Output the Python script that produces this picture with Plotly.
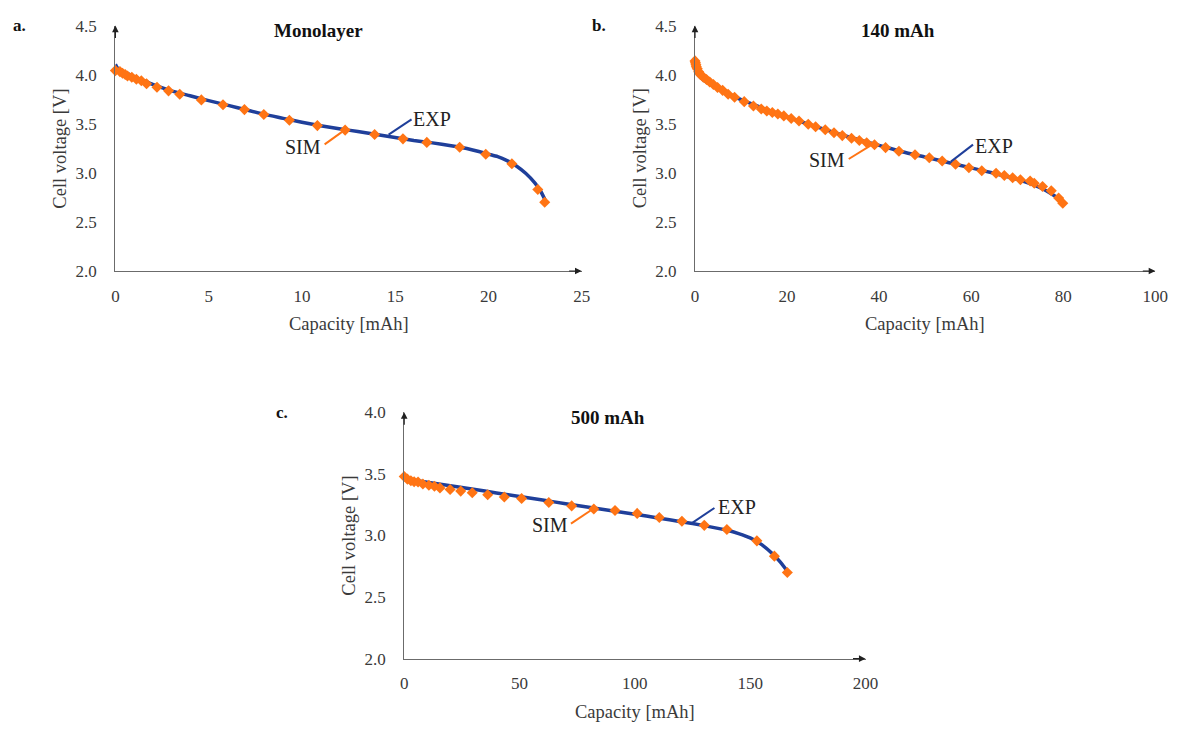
import plotly.graph_objects as go

# ---------------- data ----------------
# Panel a: Monolayer
a_exp_x = [0, 0.1, 0.3, 0.6, 1.0, 1.5, 2, 3, 4, 5, 6, 7, 8, 9, 10, 11, 12, 13, 14, 15, 16, 17, 18, 19, 20, 20.5, 21, 21.5, 22, 22.5, 22.8, 23.05]
a_exp_y = [4.105, 4.07, 4.045, 4.015, 3.98, 3.94, 3.90, 3.835, 3.785, 3.735, 3.69, 3.642, 3.595, 3.555, 3.515, 3.48, 3.45, 3.42, 3.39, 3.36, 3.33, 3.305, 3.275, 3.24, 3.19, 3.165, 3.125, 3.07, 2.995, 2.895, 2.815, 2.72]
a_sim_x = [0, 0.245, 0.386, 0.527, 0.65, 0.88, 1.125, 1.39, 1.67, 2.23, 2.85, 3.45, 4.61, 5.77, 6.92, 7.96, 9.33, 10.83, 12.32, 13.9, 15.42, 16.7, 18.46, 19.86, 21.26, 22.65, 23.02]
a_sim_y = [4.041, 4.031, 4.014, 4.001, 3.987, 3.974, 3.954, 3.938, 3.908, 3.872, 3.835, 3.80, 3.743, 3.693, 3.644, 3.594, 3.535, 3.481, 3.435, 3.39, 3.346, 3.31, 3.26, 3.19, 3.092, 2.83, 2.70]

# Panel b: 140 mAh
b_exp_x = [0, 0.3, 1, 2, 4, 6, 8, 10, 15, 20, 25, 30, 35, 40, 45, 50, 55, 60, 65, 70, 75, 78, 80, 80.4]
b_exp_y = [4.06, 4.02, 3.98, 3.94, 3.885, 3.835, 3.79, 3.745, 3.655, 3.57, 3.49, 3.415, 3.345, 3.28, 3.215, 3.16, 3.105, 3.05, 2.995, 2.935, 2.85, 2.77, 2.705, 2.685]
b_sim_x = [0, 0.1, 0.2, 0.3, 0.5, 0.8, 1.2, 1.8, 2.5, 3.2, 4.0, 4.9, 6.0, 7.2, 8.6, 10.7, 12.7, 14.4, 15.6, 16.8, 18.0, 19.3, 20.9, 22.6, 24.6, 26.2, 28.3, 30.2, 32.0, 34.0, 35.7, 37.3, 39.0, 41.4, 44.3, 47.8, 50.9, 53.7, 56.6, 59.5, 62.3, 65.4, 67.2, 69.0, 70.7, 72.8, 73.7, 75.5, 77.4, 79.0, 79.9]
b_sim_y = [4.14, 4.12, 4.10, 4.08, 4.06, 4.03, 4.0, 3.975, 3.95, 3.925, 3.90, 3.87, 3.84, 3.80, 3.77, 3.725, 3.68, 3.65, 3.63, 3.615, 3.60, 3.58, 3.553, 3.527, 3.494, 3.47, 3.438, 3.408, 3.379, 3.352, 3.329, 3.306, 3.286, 3.257, 3.22, 3.184, 3.154, 3.121, 3.088, 3.052, 3.022, 2.995, 2.972, 2.95, 2.93, 2.916, 2.893, 2.86, 2.817, 2.744, 2.69]

# Panel c: 500 mAh
c_exp_x = [0, 10, 20, 30, 40, 50, 60, 70, 80, 90, 100, 110, 120, 130, 140, 145, 150, 155, 160, 163, 166.3]
c_exp_y = [3.46, 3.432, 3.404, 3.375, 3.345, 3.316, 3.287, 3.258, 3.229, 3.20, 3.172, 3.142, 3.112, 3.08, 3.042, 3.015, 2.98, 2.925, 2.845, 2.785, 2.705]
c_sim_x = [0, 1.4, 2.9, 4.3, 6.0, 8.1, 10.7, 13.1, 15.5, 19.9, 24.5, 29.5, 36.2, 43.4, 50.9, 62.7, 72.6, 82.2, 91.4, 101.0, 110.6, 120.4, 130.1, 139.9, 152.9, 160.5, 166.1]
c_sim_y = [3.478, 3.457, 3.444, 3.436, 3.434, 3.418, 3.407, 3.40, 3.386, 3.373, 3.36, 3.346, 3.33, 3.312, 3.30, 3.267, 3.24, 3.215, 3.203, 3.179, 3.145, 3.116, 3.082, 3.048, 2.956, 2.832, 2.70]

titles = ["Monolayer", "140 mAh", "500 mAh"]
panel_labels = ["a.", "b.", "c."]
x_ranges = [[0, 25], [0, 100], [0, 200]]
y_ranges = [[2.0, 4.5], [2.0, 4.5], [2.0, 4.0]]
x_dticks = [5, 20, 50]
title_x = [10.9, 44.1, 88.5]

# label positions (data units): text centre, leader start, leader end
exp_text = [(16.97, 3.548), (65.0, 3.27), (144.3, 3.233)]
exp_lead = [((15.88, 3.545), (14.65, 3.389)), ((60.4, 3.287), (55.6, 3.114)), ((134.5, 3.223), (124.4, 3.096))]
sim_text = [(10.05, 3.26), (28.7, 3.13), (63.2, 3.088)]
sim_lead = [((11.22, 3.29), (12.36, 3.445)), ((33.4, 3.141), (38.2, 3.28)), ((72.3, 3.096), (81.8, 3.215))]

# ---------------- styling ----------------
W, H = 1190, 731
BLUE = "#1f3f9a"
ORANGE = "#ff7414"
AXIS = "#6b6b6b"
TXT = "#3a3a3a"
FONT = "Liberation Serif"

# pixel boxes (left, right, top, bottom)
boxes = [(113, 586, 17, 269), (701, 1168, 17, 269), (406, 874, 414, 667)]

exp_x = [a_exp_x, b_exp_x, c_exp_x]
exp_y = [a_exp_y, b_exp_y, c_exp_y]
sim_x = [a_sim_x, b_sim_x, c_sim_x]
sim_y = [a_sim_y, b_sim_y, c_sim_y]

fig = go.Figure()
annotations = []
shapes = []
layout = {}

for i in range(3):
    sfx = "" if i == 0 else str(i + 1)
    xa, ya = "x" + sfx, "y" + sfx
    l, r, t, b = boxes[i]
    layout["xaxis" + sfx] = dict(
        domain=[l / W, r / W], range=x_ranges[i], anchor=ya, dtick=x_dticks[i], tick0=0,
        showgrid=False, zeroline=False, showline=True, linecolor=AXIS, linewidth=1.3,
        ticks="", ticklabelstandoff=9, tickfont=dict(family=FONT, size=17, color=TXT),
        fixedrange=True,
    )
    layout["yaxis" + sfx] = dict(
        domain=[1 - b / H, 1 - t / H], range=y_ranges[i], anchor=xa, dtick=0.5, tick0=2.0,
        tickformat=".1f", showgrid=False, zeroline=False, showline=True, linecolor=AXIS,
        linewidth=1.3, ticks="", ticklabelstandoff=14,
        tickfont=dict(family=FONT, size=17, color=TXT), fixedrange=True,
    )

    fig.add_trace(go.Scatter(
        x=exp_x[i], y=exp_y[i], xaxis=xa, yaxis=ya, mode="lines",
        line=dict(color=BLUE, width=3.5, shape="spline", smoothing=0.6),
        showlegend=False, hoverinfo="skip", cliponaxis=False,
    ))
    fig.add_trace(go.Scatter(
        x=sim_x[i], y=sim_y[i], xaxis=xa, yaxis=ya, mode="markers",
        marker=dict(symbol="diamond", size=8.5, color=ORANGE, line=dict(width=0)),
        showlegend=False, hoverinfo="skip", cliponaxis=False,
    ))

    xd, yd = xa + " domain", ya + " domain"
    # arrow heads for axes
    annotations.append(dict(x=1, y=0, xref=xd, yref=yd, ax=-14, ay=0, text="",
                            showarrow=True, arrowhead=2, arrowsize=1.1, arrowwidth=1.2,
                            arrowcolor="#202020", standoff=0))
    annotations.append(dict(x=0, y=1, xref=xd, yref=yd, ax=0, ay=14, text="",
                            showarrow=True, arrowhead=2, arrowsize=1.1, arrowwidth=1.2,
                            arrowcolor="#202020", standoff=0))
    # axis titles
    annotations.append(dict(x=0.5, y=0, xref=xd, yref=yd, yshift=-53, text="Capacity [mAh]",
                            showarrow=False, yanchor="middle", xanchor="center",
                            font=dict(family=FONT, size=18.5, color=TXT)))
    annotations.append(dict(x=0, y=0.5, xref=xd, yref=yd, xshift=-55, text="Cell voltage [V]",
                            textangle=-90, showarrow=False, yanchor="middle", xanchor="center",
                            font=dict(family=FONT, size=18.5, color=TXT)))
    # panel title
    annotations.append(dict(x=title_x[i], y=1, xref=xa, yref=yd, yshift=-5, text="<b>%s</b>" % titles[i],
                            showarrow=False, yanchor="middle", xanchor="center",
                            font=dict(family=FONT, size=19, color="#111111")))
    # panel letter
    annotations.append(dict(x=(l - 97 if i != 2 else l - 124) / W, y=1 - t / H, xref="paper", yref="paper",
                            text="<b>%s</b>" % panel_labels[i], showarrow=False,
                            xanchor="center", yanchor="middle",
                            font=dict(family=FONT, size=17, color="#111111")))
    # EXP / SIM labels
    annotations.append(dict(x=exp_text[i][0], y=exp_text[i][1], xref=xa, yref=ya, text="EXP",
                            showarrow=False, font=dict(family=FONT, size=20, color="#222222")))
    annotations.append(dict(x=sim_text[i][0], y=sim_text[i][1], xref=xa, yref=ya, text="SIM",
                            showarrow=False, font=dict(family=FONT, size=20, color="#222222")))
    (x0, y0), (x1, y1) = exp_lead[i]
    shapes.append(dict(type="line", xref=xa, yref=ya, x0=x0, y0=y0, x1=x1, y1=y1,
                       line=dict(color=BLUE, width=2)))
    (x0, y0), (x1, y1) = sim_lead[i]
    shapes.append(dict(type="line", xref=xa, yref=ya, x0=x0, y0=y0, x1=x1, y1=y1,
                       line=dict(color=ORANGE, width=2)))

fig.update_layout(
    width=W, height=H, margin=dict(l=0, r=0, t=0, b=0),
    paper_bgcolor="white", plot_bgcolor="white",
    annotations=annotations, shapes=shapes, showlegend=False,
    **layout,
)

fig.write_html("out.html", config={"displayModeBar": False})
